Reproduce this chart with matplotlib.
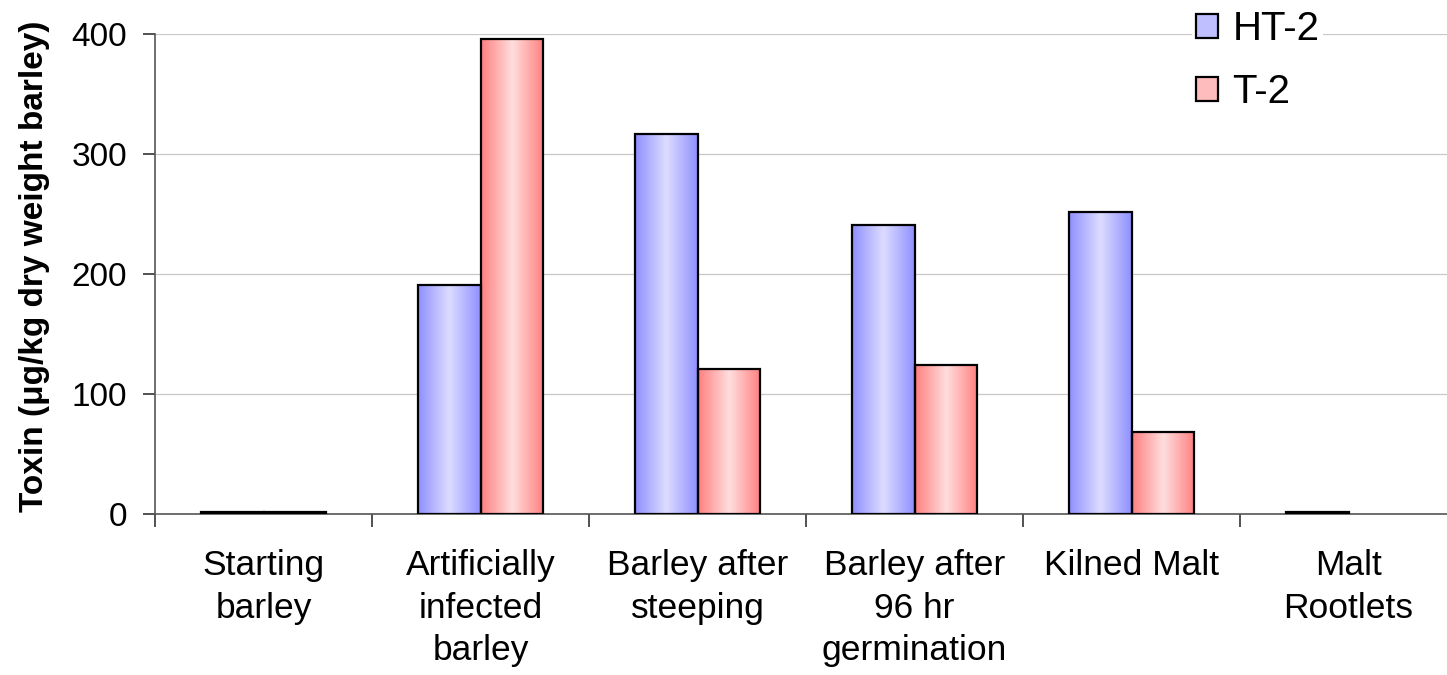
import matplotlib
matplotlib.use("Agg")
import matplotlib.pyplot as plt
import numpy as np
from matplotlib.patches import Patch
from matplotlib.colors import LinearSegmentedColormap

categories = ["Starting\nbarley", "Artificially\ninfected\nbarley", "Barley after\nsteeping",
              "Barley after\n96 hr\ngermination", "Kilned Malt", "Malt\nRootlets"]
ht2 = [2, 191, 317, 241, 252, 2]
t2 = [2, 396, 121, 124, 68, 0]
series_names = ["HT-2", "T-2"]
yticks = [0, 100, 200, 300, 400]

plt.rcParams['font.family'] = ['Liberation Sans', 'DejaVu Sans']

W, H = 1447, 675
fig = plt.figure(figsize=(W/100, H/100), dpi=100)
ax = fig.add_axes([155/W, (H-514)/H, (1457-155)/W, 480/H])

x = np.arange(len(categories)) + 0.5
w = 0.29

cm_blue = LinearSegmentedColormap.from_list("b", ["#8f8fff", "#dcdcff", "#8f8fff"])
cm_red = LinearSegmentedColormap.from_list("r", ["#ff7f7f", "#ffdede", "#ff7f7f"])
grad = np.linspace(0, 1, 256).reshape(1, -1)

def draw(xs, vals, cmap):
    bars = ax.bar(xs, vals, width=w, facecolor='none', edgecolor='black', linewidth=1.6, zorder=3)
    for b in bars:
        if b.get_height() <= 0:
            b.set_visible(False)
            continue
        x0, y0 = b.get_x(), b.get_y()
        im = ax.imshow(grad, cmap=cmap, aspect='auto', extent=[x0, x0 + b.get_width(), y0, y0 + b.get_height()],
                       zorder=2, interpolation='bicubic')
        im.set_clip_path(b)
    return bars

draw(x - w/2, ht2, cm_blue)
draw(x + w/2, t2, cm_red)

ax.set_xlim(0, len(categories))
ax.set_ylim(0, 400)
ax.set_yticks(yticks)
ax.yaxis.grid(True, color='#c8c8c8', linewidth=0.9, zorder=0)
ax.set_axisbelow(True)

ax.set_xticks(np.arange(len(categories) + 1))
ax.set_xticklabels([])
ax.set_xticks(x, minor=True)
ax.set_xticklabels(categories, minor=True, fontsize=25.5, linespacing=1.38, va='top')
ax.tick_params(axis='x', which='minor', length=0, pad=25)
ax.tick_params(axis='x', which='major', length=9, width=1.2, color='#333333', direction='out')
ax.tick_params(axis='y', length=9, width=1.2, color='#333333', direction='out', labelsize=24, pad=11)

for s in ['top', 'right']:
    ax.spines[s].set_visible(False)
for s in ['left', 'bottom']:
    ax.spines[s].set_color('#555555')
    ax.spines[s].set_linewidth(1.2)

ax.set_ylabel("Toxin (\u03bcg/kg dry weight barley)", fontsize=24, fontweight='bold')
ax.yaxis.set_label_coords(-(155 - 50) / (1457 - 155), 0.515)

handles = [Patch(facecolor='#bfbfff', edgecolor='black', linewidth=1.6),
           Patch(facecolor='#ffbcbc', edgecolor='black', linewidth=1.6)]
leg = fig.legend(handles, series_names, loc='upper left', bbox_to_anchor=(1172/W, 1 + 14/H),
                 frameon=True, fontsize=29, handlelength=0.55, handleheight=0.55, handletextpad=0.35,
                 labelspacing=0.62, borderpad=0.1)
leg.get_frame().set_facecolor('white')
leg.get_frame().set_edgecolor('none')
leg.get_frame().set_alpha(1)

fig.savefig("out.png", dpi=100)
